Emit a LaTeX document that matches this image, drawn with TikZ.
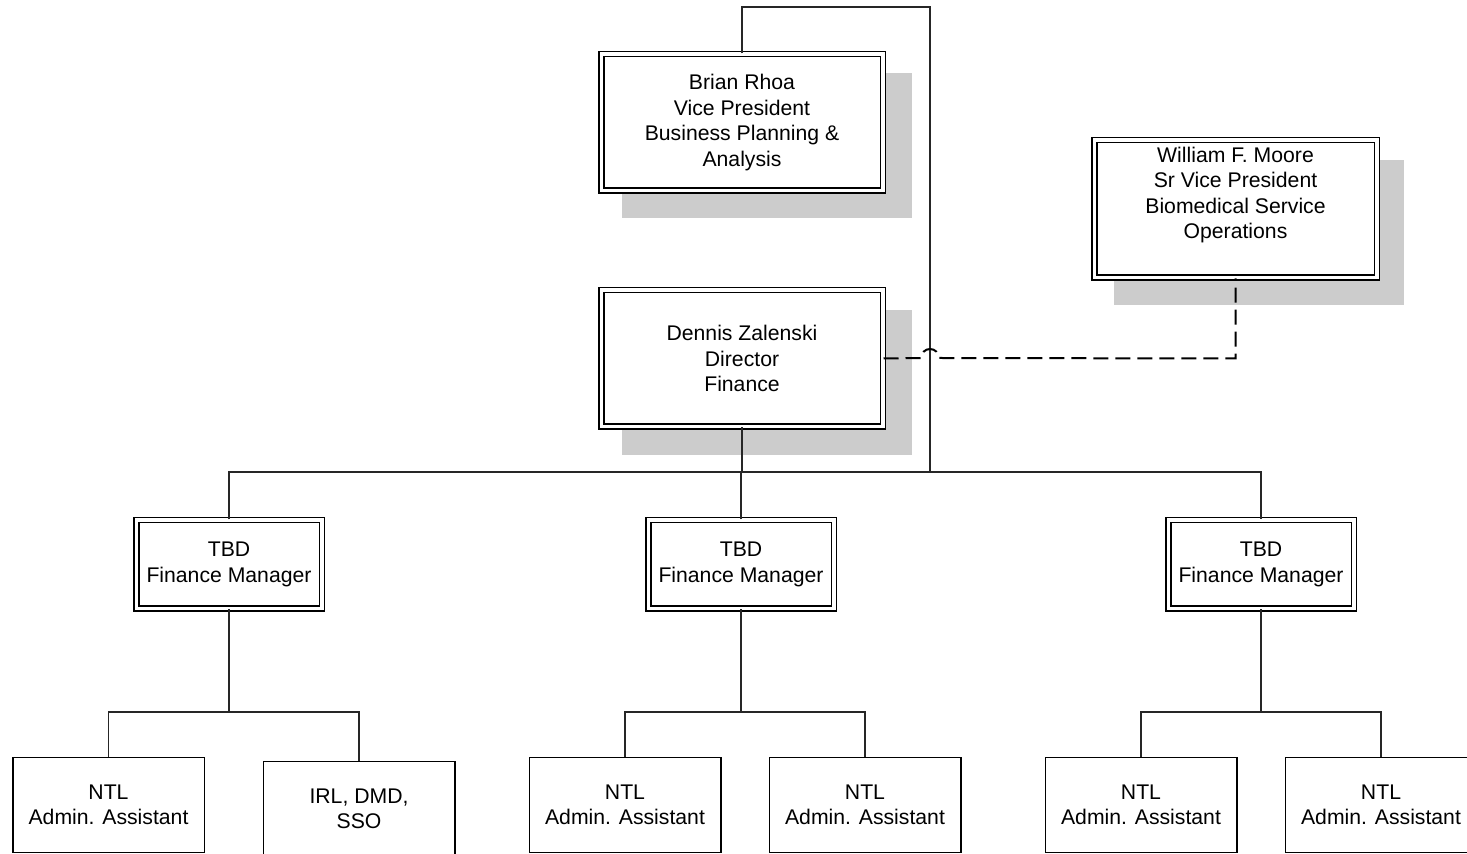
\documentclass[tikz,border=0pt]{standalone}
\usepackage{fontspec}
\setmainfont{Liberation Sans}
\definecolor{shadegray}{RGB}{204,204,204}

\begin{document}
\begin{tikzpicture}[x=0.5pt,y=0.5pt,
    every node/.style={font=\fontsize{10.6}{12.75}\selectfont, align=center, inner sep=0pt},
    chief/.style={draw=black, fill=white, double, line width=0.75pt, double distance=1.75pt,
                  minimum width=140.75pt, minimum height=68.25pt},
    manager/.style={draw=black, fill=white, double, line width=0.75pt, double distance=1.75pt,
                  minimum width=92.75pt, minimum height=44.25pt},
    staff/.style={draw=black, line width=0.75pt, minimum width=95.75pt, minimum height=47.25pt},
    link/.style={draw=black!85, line width=0.55pt},
    dotted link/.style={draw=black, line width=1pt, dash pattern=on 7.5pt off 3.5pt}]
    \useasboundingbox (0,0) rectangle (1467,-854);
    \clip (0,0) rectangle (1467,-854);
    % shadows
    \fill [shadegray] (622,-73) rectangle (912,-218);
    \fill [shadegray] (622,-310) rectangle (912,-455);
    \fill [shadegray] (1114,-160) rectangle (1404,-305);
    % top level
    \node [chief] (rhoa) at (742,-122.5) {Brian Rhoa\\Vice President\\Business Planning \&\\Analysis};
    \node [chief] (zalenski) at (742,-358.5) {Dennis Zalenski\\Director\\Finance};
    \node [chief, minimum width=141.25pt, minimum height=68.75pt] (moore) at (1235.5,-209) {};
    \node (mooretext) at ([yshift=7pt]moore.center) {William F. Moore\\Sr Vice President\\Biomedical Service\\Operations};
    % managers
    \node [manager] (fmA) at (229,-564.5) {TBD\\Finance Manager};
    \node [manager] (fmB) at (741,-564.5) {TBD\\Finance Manager};
    \node [manager] (fmC) at (1261,-564.5) {TBD\\Finance Manager};
    % staff
    \node [staff] (asA1) at (108.5,-805) {NTL\\Admin. Assistant};
    \node [staff] (asA2) at (359,-809) {IRL, DMD,\\SSO};
    \node [staff] (asB1) at (625,-805) {NTL\\Admin. Assistant};
    \node [staff] (asB2) at (865,-805) {NTL\\Admin. Assistant};
    \node [staff] (asC1) at (1141,-805) {NTL\\Admin. Assistant};
    \node [staff] (asC2) at (1381,-805) {NTL\\Admin. Assistant};
    % buses
    \coordinate (bus) at (0,-472);
    \coordinate (loop) at (930,-7);
    \coordinate (busA) at (0,-712);
    % connectors
    \draw [link] (rhoa.north) |- (loop) -- (loop |- bus);
    \draw [link] (zalenski.south) -- (zalenski.south |- bus);
    \draw [link] (fmA.north) -- (fmA.north |- bus) -- (fmC.north |- bus) -- (fmC.north);
    \draw [link] (fmB.north) -- (fmB.north |- bus);
    \draw [link] (fmA.south) -- (fmA.south |- busA);
    \draw [link] (asA1.north) -- (asA1.north |- busA) -- (asA2.north |- busA) -- (asA2.north);
    \draw [link] (fmB.south) -- (fmB.south |- busA);
    \draw [link] (asB1.north) -- (asB1.north |- busA) -- (asB2.north |- busA) -- (asB2.north);
    \draw [link] (fmC.south) -- (fmC.south |- busA);
    \draw [link] (asC1.north) -- (asC1.north |- busA) -- (asC2.north |- busA) -- (asC2.north);
    % dotted line report
    \draw [dotted link] (zalenski.east) -- (921,-358) arc[start angle=180, end angle=0, radius=9]
        -- (moore.south |- zalenski.east) -- (moore.south);
\end{tikzpicture}
\end{document}
